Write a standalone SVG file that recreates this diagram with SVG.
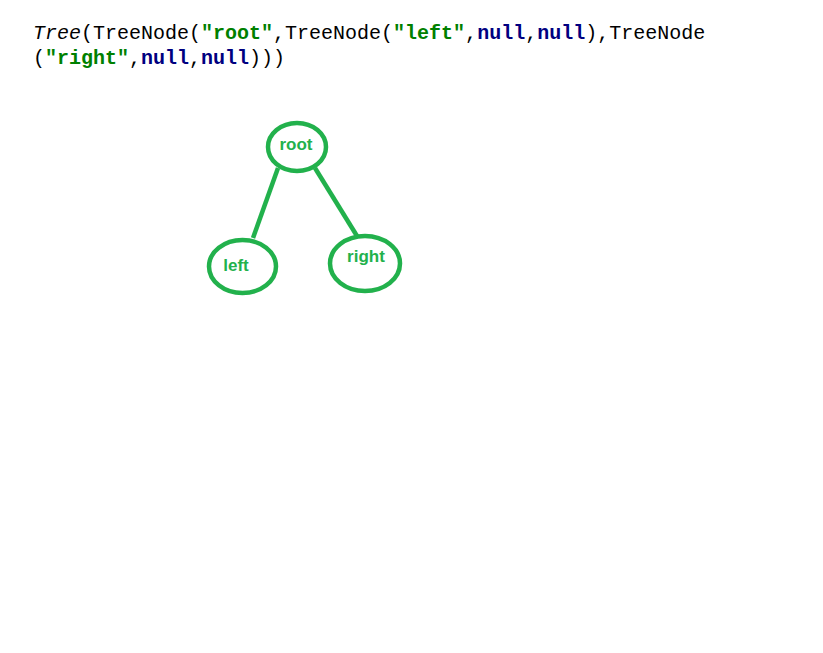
<svg xmlns="http://www.w3.org/2000/svg" width="823" height="653" viewBox="0 0 823 653">
<style>
.code{font-family:"Liberation Mono","DejaVu Sans Mono",monospace;font-size:20px;fill:#000;}
.str{fill:#008000;font-weight:bold;}
.kw{fill:#000080;font-weight:bold;}
.it{font-style:italic;}
.node ellipse{fill:none;stroke:#22b14c;stroke-width:4.5;}
.node text{font-family:"Liberation Sans","Noto Sans",sans-serif;font-weight:bold;font-size:17px;fill:#22b14c;text-anchor:middle;}
.edges line{stroke:#22b14c;stroke-width:4.5;}
</style>
<rect width="823" height="653" fill="#fff"/>
<text class="code" x="33" y="39" xml:space="preserve"><tspan class="it">Tree</tspan>(TreeNode(<tspan class="str">"root"</tspan>,TreeNode(<tspan class="str">"left"</tspan>,<tspan class="kw">null</tspan>,<tspan class="kw">null</tspan>),TreeNode</text>
<text class="code" x="33" y="64" xml:space="preserve">(<tspan class="str">"right"</tspan>,<tspan class="kw">null</tspan>,<tspan class="kw">null</tspan>)))</text>
<g class="edges">
<line x1="278" y1="168" x2="253" y2="238"/>
<line x1="315" y1="168" x2="357" y2="236"/>
</g>
<g id="root" class="node">
<ellipse cx="297" cy="147" rx="29" ry="24"/>
<text x="296" y="150">root</text>
</g>
<g id="left" class="node">
<ellipse cx="242.5" cy="266.5" rx="33.5" ry="26.5"/>
<text x="236" y="271">left</text>
</g>
<g id="right" class="node">
<ellipse cx="365" cy="263.5" rx="35" ry="27.5"/>
<text x="366" y="262">right</text>
</g>
</svg>
